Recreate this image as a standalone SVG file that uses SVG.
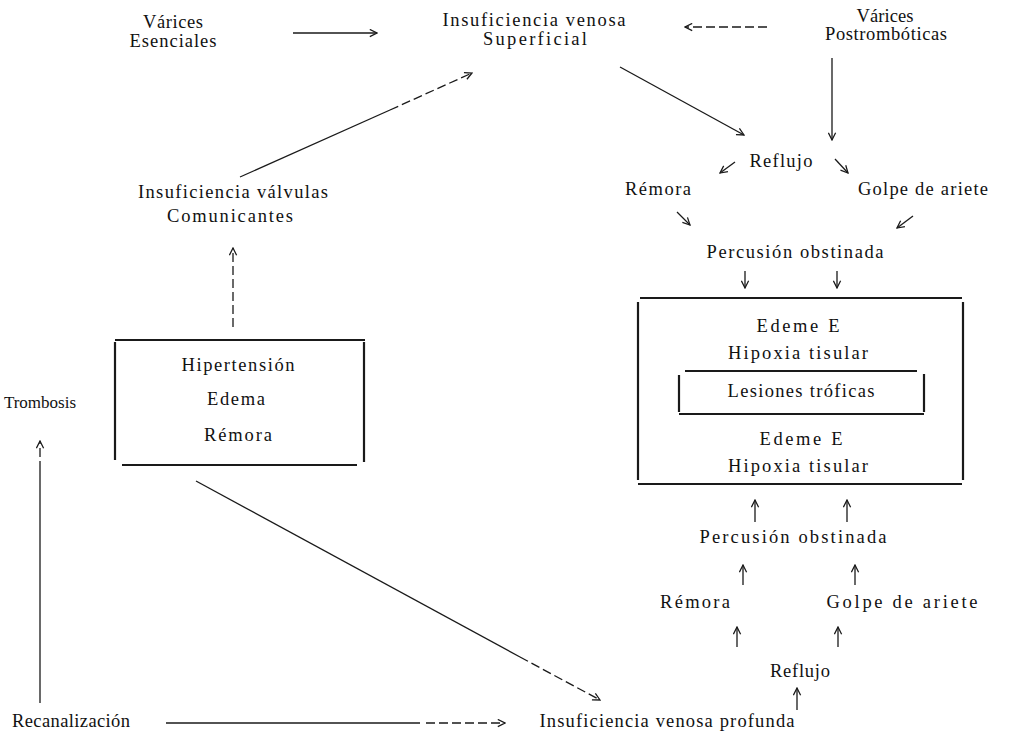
<svg xmlns="http://www.w3.org/2000/svg" width="1010" height="737" viewBox="0 0 1010 737">
<style>
text{font-family:"Liberation Serif","Times New Roman",serif;font-size:18.5px;fill:#111;text-anchor:middle}
.c{stroke:#1a1a1a;stroke-width:1.3;fill:none}
.d{stroke-dasharray:9 4}
.b{stroke:#1a1a1a;stroke-width:2.2;fill:none}
.a{marker-end:url(#ah)}
</style>
<defs>
<marker id="ah" viewBox="0 0 10 10" refX="9" refY="5" markerWidth="9" markerHeight="9" markerUnits="userSpaceOnUse" orient="auto">
<path d="M1,1 L9,5 L1,9" fill="none" stroke="#1a1a1a" stroke-width="1.4"/>
</marker>
</defs>
<rect width="1010" height="737" fill="#fff"/>

<g id="varices-esenciales"><text x="173" y="28" textLength="60" lengthAdjust="spacing">Várices</text><text x="173" y="47" textLength="87" lengthAdjust="spacing">Esenciales</text></g>
<g id="insuf-superficial"><text x="534" y="26" textLength="183" lengthAdjust="spacing">Insuficiencia venosa</text><text x="535" y="45" textLength="104" lengthAdjust="spacing">Superficial</text></g>
<g id="varices-postromboticas"><text x="885" y="22" textLength="57" lengthAdjust="spacing">Várices</text><text x="886" y="40" textLength="122" lengthAdjust="spacing">Postrombóticas</text></g>
<g id="reflujo-top"><text x="781" y="167" textLength="63" lengthAdjust="spacing">Reflujo</text></g>
<g id="remora-top"><text x="658" y="195" textLength="66" lengthAdjust="spacing">Rémora</text></g>
<g id="golpe-top"><text x="923" y="195" textLength="130" lengthAdjust="spacing">Golpe de ariete</text></g>
<g id="percusion-top"><text x="795" y="258" textLength="177" lengthAdjust="spacing">Percusión obstinada</text></g>

<g id="box-right">
<line class="b" x1="640" y1="298" x2="962" y2="298"/>
<line class="b" x1="638" y1="302" x2="638" y2="480"/>
<line class="b" x1="963" y1="302" x2="963" y2="480"/>
<line class="b" x1="638" y1="484" x2="962" y2="484"/>
<text x="798" y="332" textLength="83" lengthAdjust="spacing">Edeme E</text>
<text x="798" y="359" textLength="140" lengthAdjust="spacing">Hipoxia tisular</text>
<text x="801" y="445" textLength="83" lengthAdjust="spacing">Edeme E</text>
<text x="798" y="472" textLength="140" lengthAdjust="spacing">Hipoxia tisular</text>
</g>
<g id="lesiones-troficas">
<line class="b" x1="685" y1="371" x2="917" y2="371"/>
<line class="b" x1="679" y1="375" x2="679" y2="412"/>
<line class="b" x1="924" y1="374" x2="924" y2="412"/>
<line class="b" x1="679" y1="414" x2="924" y2="414"/>
<text x="801" y="397" textLength="147" lengthAdjust="spacing">Lesiones tróficas</text>
</g>

<g id="percusion-bottom"><text x="793" y="543" textLength="187" lengthAdjust="spacing">Percusión obstinada</text></g>
<g id="remora-bottom"><text x="695" y="608" textLength="70" lengthAdjust="spacing">Rémora</text></g>
<g id="golpe-bottom"><text x="902" y="608" textLength="151" lengthAdjust="spacing">Golpe de ariete</text></g>
<g id="reflujo-bottom"><text x="800" y="677" textLength="60" lengthAdjust="spacing">Reflujo</text></g>
<g id="insuf-profunda"><text x="667" y="727" textLength="255" lengthAdjust="spacing">Insuficiencia venosa profunda</text></g>
<g id="recanalizacion"><text x="71" y="727" textLength="118" lengthAdjust="spacing">Recanalización</text></g>
<g id="trombosis"><text x="40" y="408" style="font-size:17px">Trombosis</text></g>

<g id="box-left">
<line class="b" x1="115" y1="340" x2="365" y2="340"/>
<line class="b" x1="115" y1="342" x2="115" y2="460"/>
<line class="b" x1="364" y1="342" x2="364" y2="462"/>
<line class="b" x1="122" y1="465" x2="357" y2="465"/>
<text x="238" y="371" textLength="113" lengthAdjust="spacing">Hipertensión</text>
<text x="236" y="405" textLength="58" lengthAdjust="spacing">Edema</text>
<text x="238" y="441" textLength="68" lengthAdjust="spacing">Rémora</text>
</g>
<g id="insuf-valvulas"><text x="233" y="198" textLength="190" lengthAdjust="spacing">Insuficiencia válvulas</text><text x="230" y="222" textLength="126" lengthAdjust="spacing">Comunicantes</text></g>

<g id="connectors">
<line class="c a" x1="293" y1="33" x2="377" y2="33"/>
<line class="c d a" x1="767" y1="27" x2="685" y2="27"/>
<line class="c a" x1="832" y1="58" x2="832" y2="140" stroke-width="2.2"/>
<line class="c a" x1="620" y1="67" x2="744" y2="135"/>
<line class="c a" x1="735" y1="162" x2="720" y2="173"/>
<line class="c a" x1="835" y1="159" x2="848" y2="173"/>
<line class="c a" x1="677" y1="212" x2="690" y2="225"/>
<line class="c a" x1="913" y1="216" x2="897" y2="228"/>
<line class="c a" x1="745" y1="271" x2="745" y2="288"/>
<line class="c a" x1="837" y1="271" x2="837" y2="288"/>
<line class="c a" x1="755" y1="522" x2="755" y2="500"/>
<line class="c a" x1="847" y1="522" x2="847" y2="500"/>
<line class="c a" x1="743" y1="585" x2="743" y2="565"/>
<line class="c a" x1="855" y1="585" x2="855" y2="565"/>
<line class="c a" x1="737" y1="647" x2="737" y2="627"/>
<line class="c a" x1="838" y1="647" x2="838" y2="627"/>
<line class="c a" x1="797" y1="710" x2="797" y2="688"/>
<line class="c" x1="166" y1="723" x2="420" y2="723"/>
<line class="c d a" x1="426" y1="723" x2="505" y2="723"/>
<line class="c" x1="40" y1="703" x2="40" y2="470"/>
<line class="c d a" x1="40" y1="470" x2="40" y2="441"/>
<line class="c" x1="196" y1="481" x2="520" y2="657"/>
<line class="c d a" x1="520" y1="657" x2="600" y2="700"/>
<line class="c d a" x1="233" y1="327" x2="233" y2="248"/>
<line class="c" x1="240" y1="177" x2="390" y2="110"/>
<line class="c d a" x1="390" y1="110" x2="472" y2="73"/>
</g>
</svg>
